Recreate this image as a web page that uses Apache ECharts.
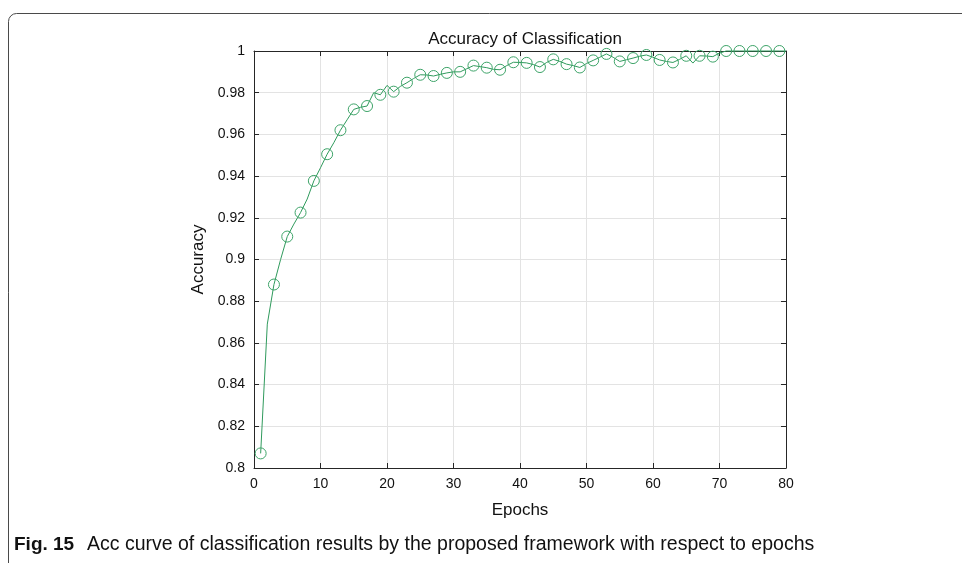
<!DOCTYPE html>
<html>
<head>
<meta charset="utf-8">
<script src="https://cdn.jsdelivr.net/npm/echarts@6/dist/echarts.min.js"></script>
<style>
  html, body { margin: 0; padding: 0; background: #fff; }
  #acc-chart { width: 962px; height: 563px; }
</style>
</head>
<body>
<div id="acc-chart"></div>
<script>
// 数据：每个epoch的分类准确率
var epochs = [];
for (var e = 1; e <= 80; e++) epochs.push(e);
var accuracy = [
  0.807, 0.869, 0.888, 0.900, 0.911, 0.917, 0.9225, 0.929, 0.9377, 0.944,
  0.9505, 0.956, 0.962, 0.967, 0.972, 0.973, 0.9736, 0.980, 0.979, 0.9835,
  0.9805, 0.983, 0.9848, 0.9868, 0.9886, 0.9885, 0.988, 0.9888, 0.9895, 0.990,
  0.990, 0.9915, 0.993, 0.9925, 0.992, 0.9912, 0.991, 0.993, 0.9946, 0.9945,
  0.9943, 0.9935, 0.9923, 0.9945, 0.996, 0.995, 0.9937, 0.993, 0.9921, 0.994,
  0.9955, 0.997, 0.9986, 0.997, 0.995, 0.9958, 0.9966, 0.9975, 0.9981, 0.997,
  0.9957, 0.995, 0.9945, 0.996, 0.9977, 0.9942, 0.9977, 0.9976, 0.9973, 0.999,
  1.0, 1.0, 1.0, 1.0, 1.0, 1.0, 1.0, 1.0, 1.0, 1.0
];
var xTicks = [0, 10, 20, 30, 40, 50, 60, 70, 80];
var yTicks = [0.8, 0.82, 0.84, 0.86, 0.88, 0.9, 0.92, 0.94, 0.96, 0.98, 1];

var lineColor = '#2f9a5c';
var axisColor = '#262626';
var font = '"Liberation Sans", Arial, sans-serif';

var seriesData = epochs.map(function (ep, i) { return [ep, accuracy[i]]; });

var myChart = echarts.init(document.getElementById('acc-chart'));

var axisCommon = {
  axisLine: { show: true, onZero: false, lineStyle: { color: axisColor, width: 1 } },
  axisTick: { show: true, inside: true, length: 5, lineStyle: { color: axisColor } },
  splitLine: { show: false }
};

var option = {
  animation: false,
  title: {
    text: 'Accuracy of Classification',
    left: 520,
    top: 26,
    textAlign: 'center',
    textStyle: { fontFamily: font, fontSize: 17, fontWeight: 'normal', color: '#111' }
  },
  grid: { left: 254, right: 176, top: 51, bottom: 95 },
  xAxis: [
    Object.assign({}, axisCommon, {
      type: 'value',
      min: 0, max: 80, interval: 10,
      position: 'bottom',
      name: 'Epochs',
      nameLocation: 'middle',
      nameGap: 34,
      nameTextStyle: { fontFamily: font, fontSize: 17, color: '#111' },
      axisLabel: { fontFamily: font, fontSize: 14, color: '#111', margin: 9 },
      splitLine: { show: true, lineStyle: { color: '#e3e3e3', width: 1 } }
    }),
    Object.assign({}, axisCommon, {
      type: 'value',
      min: 0, max: 80, interval: 10,
      position: 'top',
      axisLabel: { show: false }
    })
  ],
  yAxis: [
    Object.assign({}, axisCommon, {
      type: 'value',
      min: 0.8, max: 1, interval: 0.02,
      position: 'left',
      name: 'Accuracy',
      nameLocation: 'middle',
      nameGap: 45,
      nameTextStyle: { fontFamily: font, fontSize: 17, color: '#111' },
      axisLabel: {
        fontFamily: font, fontSize: 14, color: '#111', margin: 9,
        formatter: function (v) {
          var r = Math.round(v * 100) / 100;
          return yTicks.indexOf(r) >= 0 ? String(r) : '';
        }
      },
      splitLine: { show: true, lineStyle: { color: '#e3e3e3', width: 1 } }
    }),
    Object.assign({}, axisCommon, {
      type: 'value',
      min: 0.8, max: 1, interval: 0.02,
      position: 'right',
      axisLabel: { show: false }
    })
  ],
  series: [
    {
      type: 'line',
      xAxisIndex: 0,
      yAxisIndex: 0,
      data: seriesData,
      clip: false,
      // 只在奇数epoch上画空心圆
      symbol: function (value, params) {
        return params.dataIndex % 2 === 0 ? 'circle' : 'none';
      },
      symbolSize: 11,
      itemStyle: { color: 'rgba(0,0,0,0)', borderColor: '#3da368', borderWidth: 1 },
      lineStyle: { color: lineColor, width: 1 }
    }
  ],
  graphic: [
    {
      type: 'rect',
      shape: { x: 8.5, y: 13.5, width: 1000, height: 700, r: 8 },
      style: { fill: 'none', stroke: '#4a4a4a', lineWidth: 1 },
      silent: true
    },
    {
      type: 'text',
      left: 14,
      top: 535,
      style: {
        text: 'Fig. 15',
        font: 'bold 19px "Liberation Sans", Arial, sans-serif',
        fill: '#111'
      }
    },
    {
      type: 'text',
      left: 87,
      top: 535,
      style: {
        text: 'Acc curve of classification results by the proposed framework with respect to epochs',
        font: '19.5px "Liberation Sans", Arial, sans-serif',
        fill: '#111'
      }
    }
  ]
};

myChart.setOption(option);
</script>
</body>
</html>
